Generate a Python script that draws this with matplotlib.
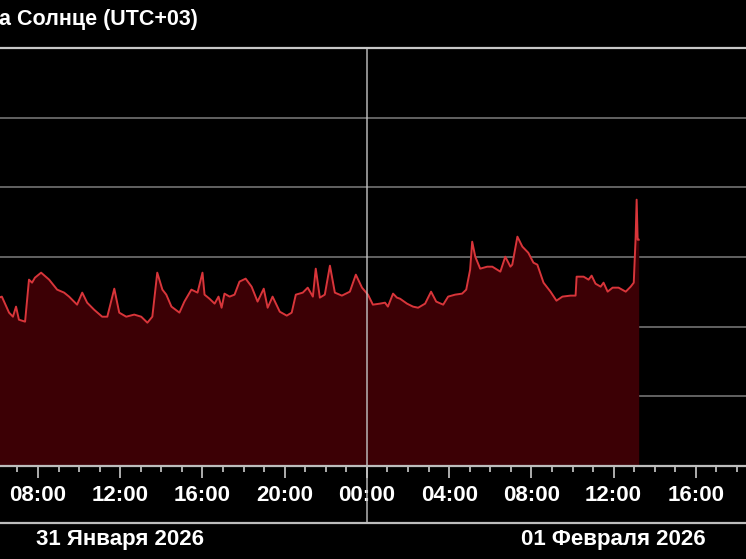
import numpy as np
import matplotlib.pyplot as plt
from matplotlib.lines import Line2D
from matplotlib import transforms

# time in hours from 31 Jan 00:00 (UTC+03)
hours = [6.10, 6.24, 6.59, 6.78, 6.93, 7.07, 7.37, 7.56, 7.71, 7.85,
         8.15, 8.54, 8.93, 9.27, 9.51, 9.90, 10.15, 10.39, 10.73, 11.12,
         11.37, 11.71, 11.95, 12.29, 12.68, 13.02, 13.32, 13.56, 13.80, 14.05,
         14.24, 14.49, 14.88, 15.12, 15.46, 15.76, 16.00, 16.10, 16.34, 16.59,
         16.78, 16.93, 17.07, 17.32, 17.56, 17.80, 18.10, 18.39, 18.68, 18.98,
         19.17, 19.41, 19.76, 20.10, 20.34, 20.54, 20.88, 21.12, 21.37, 21.51,
         21.71, 21.95, 22.20, 22.44, 22.78, 23.17, 23.46, 23.76, 24.05, 24.29,
         24.63, 24.88, 25.02, 25.27, 25.46, 25.61, 25.95, 26.24, 26.49, 26.83,
         27.12, 27.37, 27.71, 27.95, 28.29, 28.63, 28.83, 29.02, 29.12, 29.27,
         29.51, 29.85, 30.10, 30.49, 30.73, 30.98, 31.07, 31.32, 31.56, 31.85,
         32.10, 32.29, 32.59, 32.93, 33.22, 33.51, 33.90, 34.15, 34.20, 34.54,
         34.78, 34.93, 35.12, 35.37, 35.51, 35.71, 35.95, 36.24, 36.59, 36.83,
         36.98, 37.07, 37.12, 37.17, 37.22]

# X-ray flux, in units of 1e-7 W/m^2
flux = [2.61, 2.70, 1.59, 1.39, 1.94, 1.26, 1.18, 4.73, 4.28, 5.05,
        5.96, 4.73, 3.40, 3.08, 2.70, 2.07, 3.08, 2.21, 1.75, 1.39,
        1.39, 3.51, 1.59, 1.39, 1.49, 1.39, 1.14, 1.39, 5.96, 3.40,
        2.88, 1.94, 1.59, 2.29, 3.40, 3.08, 5.96, 2.88, 2.52, 2.14,
        2.70, 1.87, 2.98, 2.70, 2.88, 4.43, 4.89, 3.75, 2.29, 3.51,
        1.87, 2.70, 1.64, 1.44, 1.59, 2.88, 3.08, 3.63, 2.70, 6.80,
        2.61, 2.88, 7.51, 3.08, 2.79, 3.18, 5.58, 3.63, 2.88, 2.07,
        2.14, 2.21, 1.94, 2.98, 2.61, 2.52, 2.14, 1.94, 1.87, 2.14,
        3.18, 2.29, 2.07, 2.70, 2.88, 2.98, 3.40, 6.58, 16.6, 10.1,
        6.80, 7.26, 7.26, 6.16, 10.1, 7.26, 7.76, 19.6, 14.1, 11.5,
        8.29, 7.76, 4.28, 3.18, 2.36, 2.70, 2.79, 2.79, 5.22, 5.22,
        4.73, 5.40, 4.14, 3.75, 4.28, 3.18, 3.63, 3.63, 3.18, 3.75,
        4.28, 18.9, 66.5, 17.7, 17.7]

tick_hours = np.arange(8, 41, 4)
tick_labels = [f"{h % 24:02d}:00" for h in tick_hours]
day_labels = ["31 Января 2026", "01 Февраля 2026"]
day_centers = [12, 36]
title = "а Солнце (UTC+03)"

plt.rcParams['font.family'] = ['Liberation Sans', 'DejaVu Sans']

fig = plt.figure(figsize=(7.46, 5.59), dpi=100, facecolor='black')
ax = fig.add_axes([0, 1 - 466 / 559, 1, 418 / 559])
ax.set_facecolor('black')

# curve and fill
ax.fill_between(hours, flux, 0.01, color='#3c0005', zorder=2, lw=0)
ax.plot(hours, flux, color='#d8353a', lw=1.4, zorder=3)

ax.set_yscale('log')
ax.set_ylim(0.01, 1e4)
ax.set_xlim(6.15, 42.44)

# grid lines
ax.set_yticks([0.1, 1, 10, 100, 1000])
ax.yaxis.set_minor_locator(plt.NullLocator())
ax.grid(axis='y', color='#6a6a6a', lw=1.3, zorder=1)
ax.tick_params(axis='y', left=False, labelleft=False)

# x ticks
ax.set_xticks(tick_hours, tick_labels)
ax.set_xticks(np.arange(7, 43), minor=True)
ax.tick_params(axis='x', which='major', length=8.6, width=1.2, color='#cccccc',
               labelcolor='white', labelsize=16, pad=5)
ax.tick_params(axis='x', which='minor', length=4.3, width=1.2, color='#cccccc')
for lbl in ax.get_xticklabels():
    lbl.set_fontweight('bold')

for side in ['left', 'right']:
    ax.spines[side].set_visible(False)
ax.spines['top'].set_color('#c8c8c8')
ax.spines['top'].set_linewidth(1.6)
ax.spines['bottom'].set_color('#bdbdbd')
ax.spines['bottom'].set_linewidth(1.6)
ax.spines['top'].set_zorder(5)
ax.spines['bottom'].set_zorder(5)

# day divider
ax.axvline(24, ymin=(466 - 522) / 418, ymax=1, clip_on=False,
           color='#c4c4c4', lw=1.2, alpha=0.85, zorder=4)

# line under the time labels
fig.add_artist(Line2D([0, 1], [1 - 523 / 559] * 2, color='#bdbdbd', lw=1.6))

# date labels
trans = transforms.blended_transform_factory(ax.transData, fig.transFigure)
for c, lab in zip(day_centers, day_labels):
    ax.text(c, 1 - 539 / 559, lab, transform=trans, ha='center', va='center',
            color='white', fontsize=16, fontweight='bold', clip_on=False)

fig.text(-0.002, 1 - 20 / 559, title, color='white', fontsize=15.5,
         fontweight='bold', ha='left', va='center')

fig.savefig('out.png', dpi=100, facecolor='black')
